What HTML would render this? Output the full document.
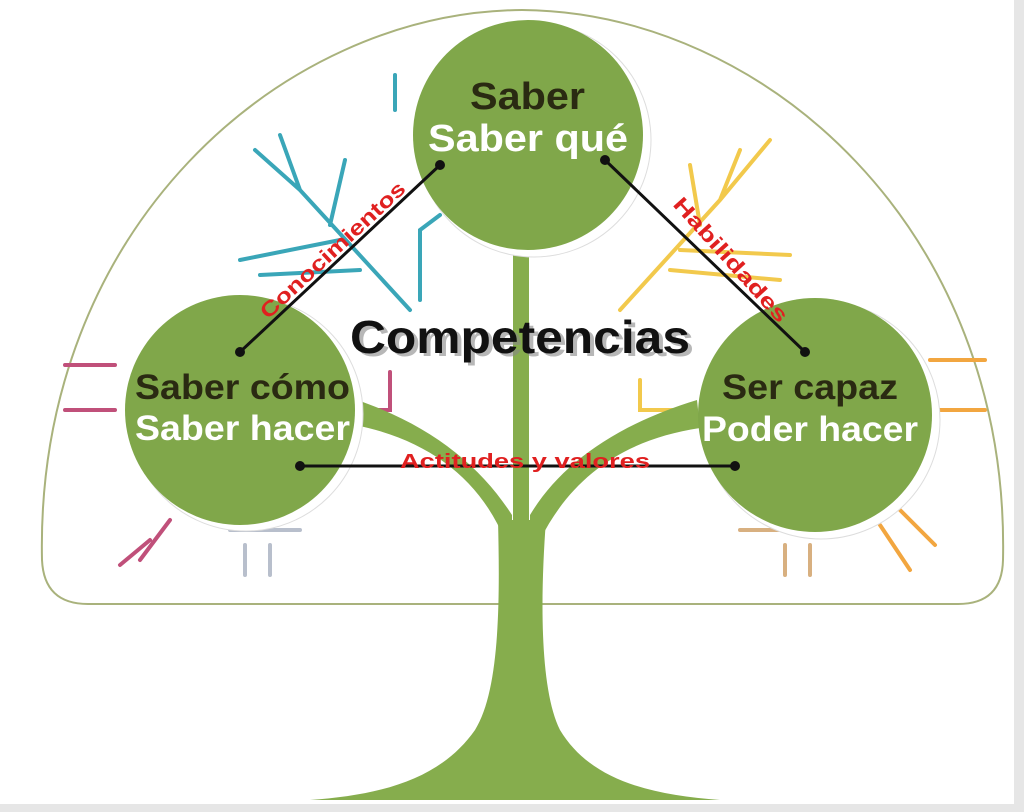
<!DOCTYPE html>
<html><head><meta charset="utf-8"><style>body{margin:0;background:#fff}svg{display:block}</style></head><body>
<svg width="1024" height="812" viewBox="0 0 1024 812" xmlns="http://www.w3.org/2000/svg" font-family="Liberation Sans, sans-serif">
<rect width="1024" height="812" fill="#fff"/>
<rect x="1014" y="0" width="10" height="812" fill="#e6e6e6"/>
<rect x="0" y="804" width="1024" height="8" fill="#e6e6e6"/>
<path d="M42 560 C35 230 280 12 522 10 C765 12 1010 230 1003 560 Q1002 604 958 604 L88 604 Q44 604 42 560 Z" fill="none" stroke="#a9b27c" stroke-width="2"/>
<g fill="none" stroke-width="4" stroke-linecap="round">
<g stroke="#3aa6b8"><path d="M410 310 L300 190 L255 150 M300 190 L280 135 M330 225 L345 160 M340 240 L240 260 M360 270 L260 275 M420 300 L420 230 L440 215 M395 75 L395 110"/></g>
<g stroke="#f2c94c"><path d="M620 310 L720 200 L770 140 M720 200 L740 150 M700 225 L690 165 M680 250 L790 255 M670 270 L780 280 M640 380 L640 410 L680 410"/></g>
<g stroke="#c0507a"><path d="M65 365 L115 365 M65 410 L115 410 M370 410 L390 410 L390 372 M150 540 L120 565 M170 520 L140 560"/></g>
<g stroke="#f2a640"><path d="M930 360 L985 360 M935 410 L985 410 M900 510 L935 545 M880 525 L910 570"/></g>
<g stroke="#b8bfcc"><path d="M245 545 L245 575 M270 545 L270 575 M230 530 L300 530"/></g>
<g stroke="#d8b080"><path d="M785 545 L785 575 M810 545 L810 575 M740 530 L810 530"/></g>
</g>
<g fill="#86ad4d">
<rect x="513" y="240" width="16" height="300"/>
<path d="M355 425 C430 440 480 480 505 540 L512 540 L512 515 C480 465 430 425 357 400 Z"/>
<path d="M700 428 C620 440 570 480 540 540 L530 540 L530 515 C560 465 615 425 697 400 Z"/>
<path d="M498 520 L546 520 C540 600 540 690 560 730 C590 780 650 795 720 800 L310 800 C380 795 440 780 475 730 C500 690 500 600 498 520 Z"/>
</g>
<g>
<circle cx="534" cy="140" r="117" fill="#fff" stroke="#ddd" stroke-width="1"/>
<circle cx="528" cy="135" r="115" fill="#80a74a"/>
<circle cx="246" cy="414" r="117" fill="#fff" stroke="#ddd" stroke-width="1"/>
<circle cx="240" cy="410" r="115" fill="#80a74a"/>
<circle cx="821" cy="420" r="119" fill="#fff" stroke="#ddd" stroke-width="1"/>
<circle cx="815" cy="415" r="117" fill="#80a74a"/>
</g>
<g stroke="#111" stroke-width="3">
<line x1="440" y1="165" x2="240" y2="352"/>
<line x1="605" y1="160" x2="805" y2="352"/>
<line x1="300" y1="466" x2="735" y2="466"/>
</g>
<g fill="#111"><circle cx="440" cy="165" r="5"/><circle cx="240" cy="352" r="5"/><circle cx="605" cy="160" r="5"/><circle cx="805" cy="352" r="5"/><circle cx="300" cy="466" r="5"/><circle cx="735" cy="466" r="5"/></g>
<g font-weight="bold">
<text x="470" y="109" font-size="38" fill="#2a2a12" textLength="115" lengthAdjust="spacingAndGlyphs">Saber</text>
<text x="428" y="151" font-size="38" fill="#fff" textLength="200" lengthAdjust="spacingAndGlyphs">Saber qué</text>
<text x="135" y="399" font-size="35" fill="#2a2a12" textLength="215" lengthAdjust="spacingAndGlyphs">Saber cómo</text>
<text x="135" y="440" font-size="35" fill="#fff" textLength="215" lengthAdjust="spacingAndGlyphs">Saber hacer</text>
<text x="722" y="399" font-size="35" fill="#2a2a12" textLength="176" lengthAdjust="spacingAndGlyphs">Ser capaz</text>
<text x="702" y="441" font-size="35" fill="#fff" textLength="216" lengthAdjust="spacingAndGlyphs">Poder hacer</text>
<text x="354" y="356" font-size="46" fill="#888" opacity="0.6" textLength="340" lengthAdjust="spacingAndGlyphs">Competencias</text>
<text x="350" y="353" font-size="46" fill="#111" textLength="340" lengthAdjust="spacingAndGlyphs">Competencias</text>
<text x="400" y="468" font-size="20" fill="#e02020" textLength="250" lengthAdjust="spacingAndGlyphs">Actitudes  y valores</text>
<text x="0" y="0" font-size="21" fill="#e02020" textLength="190" lengthAdjust="spacingAndGlyphs" transform="translate(268 320) rotate(-43)">Conocimientos</text>
<text x="0" y="0" font-size="21" fill="#e02020" textLength="160" lengthAdjust="spacingAndGlyphs" transform="translate(672 205) rotate(48)">Habilidades</text>
</g>
</svg>
</body></html>
